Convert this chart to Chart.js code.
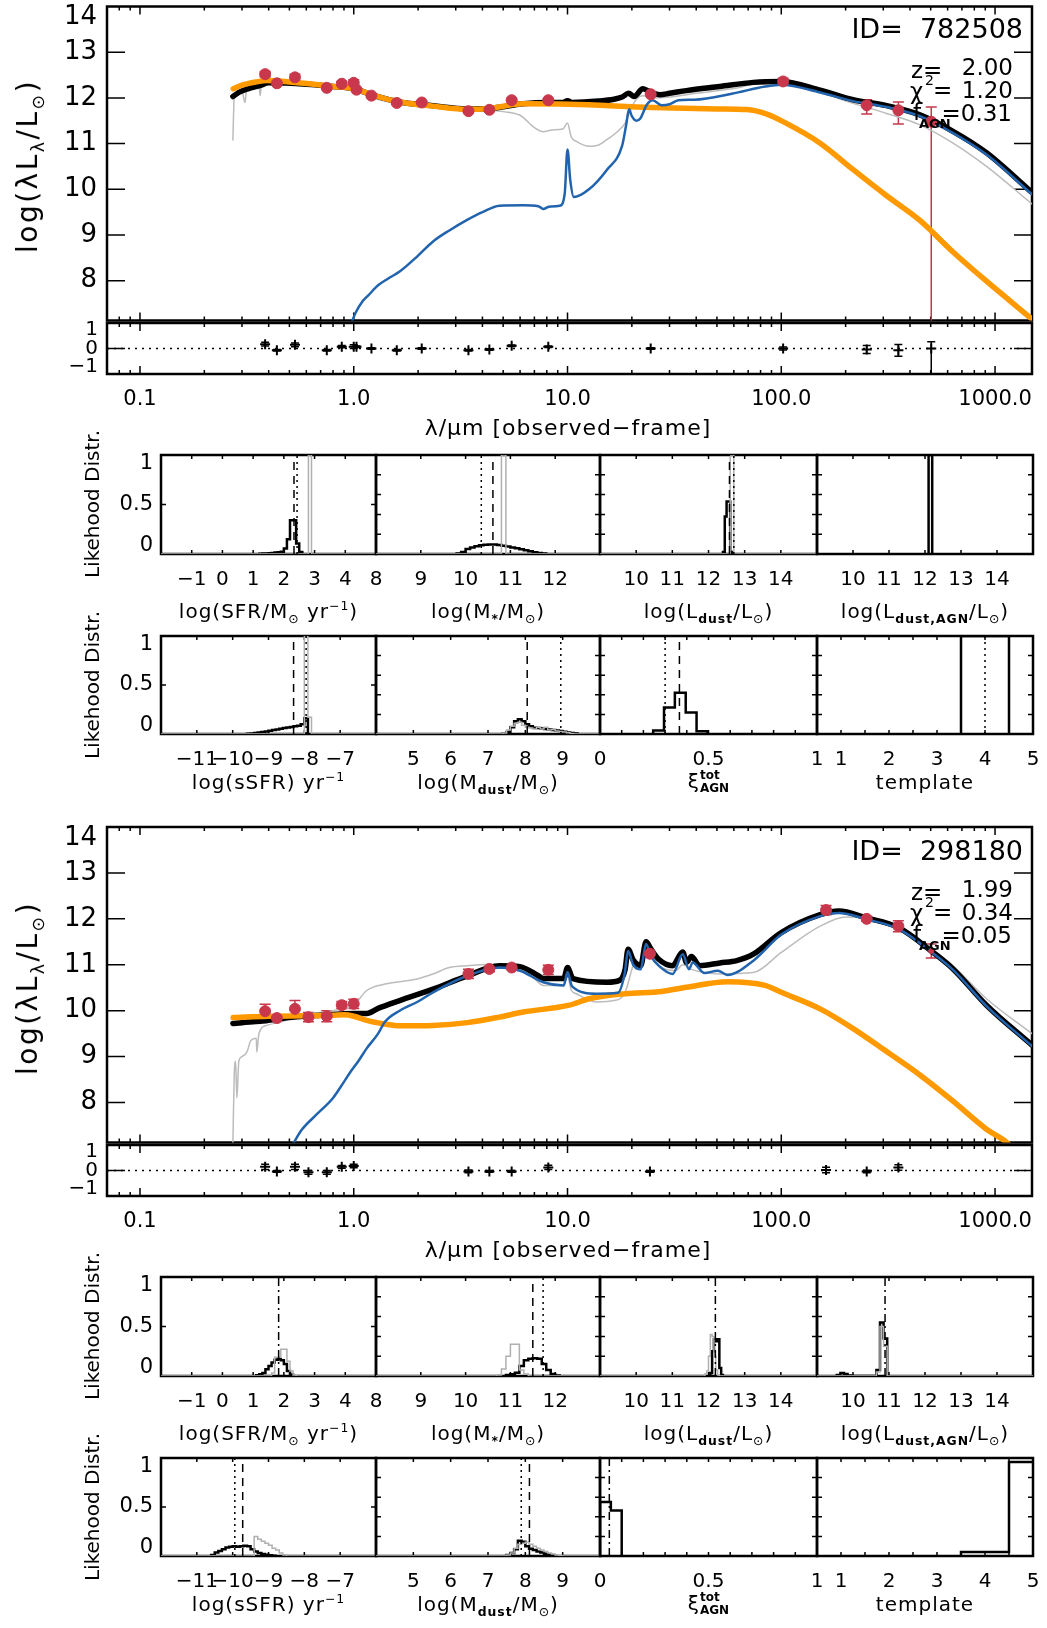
<!DOCTYPE html>
<html><head><meta charset="utf-8">
<script src="https://cdn.jsdelivr.net/npm/chart.js"></script>
<style>
html,body{margin:0;padding:0;background:#fff;}
body{position:relative;width:1047px;height:1628px;overflow:hidden;}
canvas{position:absolute;}
.t{position:absolute;white-space:nowrap;color:#000;font-family:'DejaVu Sans',sans-serif;line-height:1;}
.t sub,.t sup{font-size:0.62em;line-height:0;}
.t sub.b{font-weight:bold;}
</style></head><body>
<script>
// ================= DATA : object 782508 (upper figure) =================
const idA = '782508', zA = '2.00', chiA = '1.20', fagnA = '0.31';
// [wavelength (micron, observed frame), log(lambda L_lambda / Lsun)]
const sedA_gray = [[0.272,11.08],[0.276,12.0],[0.285,12.08],[0.30,12.15],[0.31,11.9],[0.315,12.18],[0.33,12.22],[0.36,12.28],[0.365,12.05],[0.37,12.29],[0.40,12.33],[0.50,12.32],[0.60,12.30],[0.80,12.25],[1.0,12.2],[1.2,12.02],[1.4,11.93],[1.7,11.86],[2.0,11.83],[2.5,11.79],[3.0,11.76],[3.5,11.74],[4.3,11.73],[5.0,11.70],[6.0,11.62],[7.0,11.35],[7.7,11.26],[8.5,11.3],[9.5,11.32],[10.0,11.45],[10.4,11.15],[11.0,11.05],[12.7,10.94],[14.0,10.97],[15.2,11.08],[17.0,11.25],[18.6,11.45],[20.0,11.8],[21.0,11.97],[22.5,12.05],[25,12.0],[30,12.02],[40,12.1],[58.7,12.2],[84,12.33],[100,12.32],[152,12.12],[217,11.88],[311,11.66],[445,11.41],[636,11.01],[912,10.5],[1489,9.68]];
const sedA_total = [[0.272,12.03],[0.29,12.12],[0.32,12.2],[0.364,12.27],[0.40,12.33],[0.6,12.3],[0.8,12.25],[1.0,12.2],[1.25,12.05],[1.64,11.91],[2.35,11.83],[3.4,11.76],[4.3,11.77],[6.2,11.87],[8.0,11.9],[9.5,11.9],[10,11.94],[10.5,11.9],[14,11.93],[16.5,11.97],[18,12.02],[19.3,12.1],[20.5,12.03],[22.5,12.2],[24,12.15],[27,12.07],[30,12.1],[36,12.16],[51.5,12.25],[74,12.34],[100,12.36],[152,12.17],[217,11.96],[311,11.83],[445,11.63],[636,11.27],[912,10.8],[1489,9.93]];
const sedA_galaxy = [[0.98,7.1],[1.02,7.3],[1.1,7.55],[1.17,7.68],[1.3,7.9],[1.45,8.05],[1.64,8.2],[2.0,8.55],[2.35,8.86],[2.8,9.1],[3.36,9.32],[4.0,9.5],[4.8,9.64],[6.2,9.65],[7.3,9.63],[7.7,9.57],[8.2,9.62],[9.2,9.64],[9.7,9.9],[10.0,10.87],[10.3,10.2],[10.7,9.83],[12.6,10.0],[15.3,10.43],[18.0,10.95],[18.8,11.4],[19.4,11.75],[20.0,11.6],[21.0,11.5],[21.9,11.55],[23.5,11.85],[25,11.95],[27.6,11.84],[30,11.86],[33,11.95],[39.2,11.96],[58.7,12.09],[84,12.25],[100,12.29],[152,12.12],[217,11.93],[311,11.80],[445,11.60],[636,11.23],[912,10.76],[1489,9.89]];
const sedA_agn = [[0.273,12.2],[0.3,12.28],[0.35,12.35],[0.392,12.38],[0.5,12.35],[0.65,12.3],[0.8,12.25],[1.0,12.2],[1.25,12.05],[1.64,11.91],[2.35,11.82],[3.4,11.75],[4.3,11.77],[6.2,11.87],[10.2,11.86],[25,11.79],[50,11.76],[69,11.745],[85,11.65],[102,11.48],[152,11.01],[217,10.43],[311,9.86],[445,9.32],[636,8.63],[912,7.99],[1489,7.16]];
const obsA_x  = [0.385,0.437,0.531,0.748,0.879,1.00,1.03,1.21,1.59,2.08,3.44,4.31,5.48,8.13,24.5,102,251,353,503];
const obsA_y  = [12.52,12.32,12.45,12.22,12.31,12.33,12.18,12.05,11.89,11.90,11.71,11.74,11.95,11.95,12.08,12.36,11.84,11.73,11.48];
const obsA_lo = [12.46,12.29,12.38,12.19,12.26,12.26,12.15,12.02,11.86,11.87,11.68,11.71,11.92,11.92,12.05,12.29,11.65,11.43,6.5];
const obsA_hi = [12.58,12.35,12.52,12.25,12.36,12.40,12.21,12.08,11.92,11.93,11.74,11.77,11.98,11.98,12.11,12.43,11.96,11.91,11.80];
const resA_y  = [0.24,-0.1,0.2,-0.1,0.1,0.1,0.1,0.0,-0.1,0.0,-0.1,-0.05,0.15,0.1,0.0,0.0,-0.05,-0.1,0.0];
const resA_lo = [0.14,-0.14,0.1,-0.14,0.04,0.0,0.06,-0.04,-0.14,-0.04,-0.14,-0.09,0.11,0.06,-0.04,-0.08,-0.27,-0.42,-2.0];
const resA_hi = [0.34,-0.06,0.3,-0.06,0.16,0.2,0.14,0.04,-0.06,0.04,-0.06,-0.01,0.19,0.14,0.04,0.08,0.17,0.22,0.37];
// likelihood histograms: first bin edge, bin width, heights
const A_sfr_black = {from:1.2, bin:0.1, h:[0.003,0.004,0.006,0.008,0.011,0.015,0.018,0.022,0.055,0.15,0.34,0.34,0.105,0.02]};
const A_sfr_gray  = {from:2.8, bin:0.1, h:[1.0]};
const A_sfr_lines = [['dash',2.33],['dot',2.43]];
const A_mst_black = {from:9.8, bin:0.1, h:[0.005,0.02,0.05,0.065,0.078,0.088,0.094,0.096,0.095,0.09,0.083,0.075,0.066,0.057,0.047,0.037,0.027,0.018,0.01,0.004]};
const A_mst_gray  = {from:10.8, bin:0.1, h:[1.0]};
const A_mst_lines = [['dot',10.35],['dash',10.61]];
const A_ldu_black = {from:12.4, bin:0.05, h:[0.02,0.38,0.53,0.53,0.02]};
const A_ldu_gray  = {from:12.6, bin:0.1, h:[1.0]};
const A_ldu_lines = [['dash',12.58],['dot',12.70]];
const A_lag_black = {from:12.1, bin:0.1, h:[1.0]};
const A_lag_lines = [];
const A_ssfr_black = {from:-9.6, bin:0.1, h:[0.003,0.006,0.01,0.015,0.02,0.026,0.032,0.04,0.047,0.054,0.06,0.066,0.072,0.078,0.085,0.1,0.16]};
const A_ssfr_gray  = {from:-8.0, bin:0.1, h:[1.0,0.17]};
const A_ssfr_lines = [['dash',-8.30],['dot',-7.95]];
const A_mdu_black = {from:7.4, bin:0.1, h:[0.005,0.02,0.07,0.13,0.15,0.13,0.10,0.08,0.065,0.06,0.055,0.05,0.045,0.04,0.035,0.03,0.022,0.015,0.01,0.005]};
const A_mdu_gray  = {from:7.4, bin:0.1, h:[0.01,0.04,0.08,0.11,0.12,0.09,0.07,0.06,0.05,0.07,0.05,0.07,0.04,0.045,0.03,0.025,0.02,0.012,0.005]};
const A_mdu_lines = [['dash',8.05],['dot',8.95]];
const A_xi_black = {from:0.245, bin:0.05, h:[0.035,0.27,0.42,0.22,0.027]};
const A_xi_lines = [['dot',0.30],['dash',0.366]];
const A_tpl_black = {from:3.5, bin:1.0, h:[1.0]};
const A_tpl_lines = [['dot',4.0]];

// ================= DATA : object 298180 (lower figure) =================
const idB = '298180', zB = '1.99', chiB = '0.34', fagnB = '0.05';
const sedB_gray = [[0.272,7.1],[0.276,8.6],[0.28,8.9],[0.284,8.1],[0.29,8.9],[0.30,9.0],[0.317,9.11],[0.33,9.35],[0.35,9.4],[0.352,9.1],[0.36,9.5],[0.392,9.68],[0.46,9.76],[0.56,9.90],[0.8,10.0],[1.0,10.12],[1.15,10.44],[1.4,10.58],[1.98,10.69],[2.35,10.8],[2.8,10.94],[3.4,10.98],[4.8,11.01],[6.0,10.94],[7.0,10.7],[7.7,10.55],[9.6,10.55],[10.0,10.76],[10.4,10.45],[11.0,10.37],[13.7,10.19],[16.5,10.22],[18.6,10.4],[20.0,10.9],[20.7,11.12],[22,11.0],[23.3,11.28],[26.7,10.98],[32,10.87],[34.6,11.0],[38,10.9],[51.6,10.8],[74,10.83],[100,11.27],[152,11.84],[201,12.04],[250,12.02],[353,11.77],[503,11.34],[636,10.98],[912,10.26],[1489,9.50]];
const sedB_total = [[0.272,9.72],[0.30,9.74],[0.364,9.77],[0.5,9.85],[0.7,9.9],[1.0,9.94],[1.15,9.94],[1.3,10.05],[1.64,10.22],[2.35,10.47],[3.4,10.76],[4.8,10.98],[6.0,10.96],[7.3,10.76],[7.7,10.7],[9.6,10.7],[10.0,10.94],[10.6,10.7],[15.3,10.62],[17.5,10.66],[18.6,10.9],[19.2,11.34],[20.3,11.1],[22,10.98],[23.3,11.5],[24.5,11.35],[26.7,11.12],[31,10.98],[34.6,11.28],[36,11.05],[38,11.18],[41.5,10.98],[51.6,11.04],[61.9,11.09],[74,11.23],[100,11.70],[152,12.09],[186,12.17],[250,12.02],[353,11.81],[503,11.30],[636,10.91],[912,10.12],[1489,9.25]];
const sedB_galaxy = [[0.52,7.1],[0.57,7.4],[0.67,7.74],[0.8,8.1],[0.9,8.45],[0.97,8.68],[1.05,8.9],[1.15,9.18],[1.3,9.5],[1.4,9.76],[1.64,10.0],[2.0,10.2],[2.35,10.4],[3.4,10.76],[4.8,10.94],[6.0,10.87],[7.7,10.62],[9.6,10.55],[10.0,10.84],[10.5,10.53],[13.7,10.37],[17.2,10.39],[18.5,10.8],[19.2,11.30],[20.3,11.0],[22,10.9],[23.3,11.45],[24.5,11.2],[26.7,10.98],[31,10.80],[34.6,11.23],[37,10.9],[38.5,11.05],[43.7,10.82],[50.5,10.87],[56,10.78],[74,11.09],[100,11.66],[152,12.06],[186,12.13],[250,11.99],[353,11.78],[503,11.28],[636,10.89],[912,10.10],[1489,9.23]];
const sedB_agn = [[0.273,9.85],[0.4,9.88],[0.6,9.89],[0.8,9.90],[0.9,9.91],[1.0,9.88],[1.15,9.79],[1.4,9.71],[1.64,9.67],[2.35,9.68],[3.4,9.74],[4.8,9.86],[6.2,9.97],[10.2,10.12],[12.6,10.26],[18.6,10.37],[27.6,10.42],[36,10.51],[56,10.63],[84,10.55],[100,10.40],[152,10.04],[217,9.61],[311,9.11],[445,8.60],[636,8.03],[912,7.42],[1135,7.13],[1300,6.85]];
const obsB_x  = [0.385,0.437,0.531,0.614,0.748,0.879,1.0,3.44,4.31,5.48,8.13,24.3,162,251,353,503];
const obsB_y  = [9.99,9.84,10.04,9.86,9.88,10.12,10.15,10.80,10.91,10.94,10.89,11.24,12.19,12.0,11.84,11.3];
const obsB_lo = [9.84,9.80,9.86,9.76,9.76,10.04,10.05,10.70,10.85,10.90,10.79,11.19,12.09,11.95,11.72,11.15];
const obsB_hi = [10.14,9.88,10.22,9.96,10.00,10.20,10.25,10.90,10.97,10.98,10.99,11.29,12.29,12.05,11.96,11.45];
const resB_x  = [0.385,0.437,0.531,0.614,0.748,0.879,1.0,3.44,4.31,5.48,8.13,24.3,162,251,353];
const resB_y  = [0.2,-0.05,0.2,-0.1,-0.1,0.2,0.25,-0.05,-0.05,-0.05,0.17,-0.05,0.03,-0.05,0.17];
const resB_lo = [0.05,-0.1,0.05,-0.2,-0.2,0.12,0.15,-0.13,-0.1,-0.1,0.05,-0.1,-0.12,-0.12,0.02];
const resB_hi = [0.35,0.0,0.35,0.0,0.0,0.28,0.35,0.03,0.0,0.0,0.29,0.0,0.18,0.02,0.32];
const B_sfr_black = {from:1.1, bin:0.1, h:[0.008,0.017,0.03,0.068,0.10,0.136,0.163,0.17,0.16,0.12,0.05,0.015]};
const B_sfr_gray  = {from:1.6, bin:0.1, h:[0.03,0.19,0.19,0.27,0.27,0.15,0.05,0.01]};
const B_sfr_lines = [['dashdot',1.83]];
const B_mst_black = {from:10.9, bin:0.1, h:[0.01,0.017,0.034,0.1,0.16,0.175,0.18,0.175,0.12,0.06,0.02,0.005]};
const B_mst_gray  = {from:10.7, bin:0.1, h:[0.01,0.07,0.2,0.32,0.32,0.06,0.02]};
const B_mst_lines = [['dash',11.5],['dot',11.73]];
const B_ldu_black = {from:12.05, bin:0.05, h:[0.03,0.25,0.37,0.35,0.37,0.08,0.01]};
const B_ldu_gray  = {from:11.9, bin:0.05, h:[0.02,0.05,0.2,0.42,0.40,0.20,0.06,0.01]};
const B_ldu_lines = [['dashdot',12.19]];
const B_lag_black = {from:9.55, bin:0.1, h:[0.01,0.03,0.02,0.005,0,0,0,0,0,0,0,0.06,0.54,0.38]};
const B_lag_gray  = {from:10.65, bin:0.1, h:[0.04,0.5,0.3]};
const B_lag_lines = [['dashdot',10.89]];
const B_ssfr_black = {from:-10.6, bin:0.1, h:[0.01,0.035,0.05,0.07,0.087,0.095,0.10,0.095,0.1,0.105,0.1,0.07,0.045,0.03,0.02,0.012,0.007,0.003]};
const B_ssfr_gray  = {from:-9.4, bin:0.1, h:[0.2,0.17,0.15,0.13,0.11,0.08,0.06,0.03,0.01]};
const B_ssfr_lines = [['dot',-9.94],['dash',-9.72]];
const B_mdu_black = {from:7.5, bin:0.1, h:[0.01,0.03,0.07,0.155,0.145,0.1,0.075,0.06,0.045,0.035,0.022,0.012,0.006]};
const B_mdu_gray  = {from:7.5, bin:0.1, h:[0.01,0.03,0.08,0.12,0.13,0.14,0.12,0.10,0.08,0.06,0.045,0.03,0.02,0.01,0.005]};
const B_mdu_lines = [['dot',7.89],['dash',8.11]];
const B_xi_black = {from:0, bin:0.05, h:[0.55,0.465]};
const B_xi_lines = [['dashdot',0.043]];
const B_tpl_black = {from:3.5, bin:1.0, h:[0.04,0.96]};
const B_tpl_lines = [];

// ================= axis ranges / tick labels =================
const XMIN = 0.0701, XMAX = 1489;
const DEC = [0.1,1,10,100,1000];
const DEC_TEXT = ['0.1','1.0','10.0','100.0','1000.0'];
const SED_YTICKS = [8,9,10,11,12,13,14];
const RES_YTICKS = [-1,0,1];
const ROW1_AXES = [
  {min:-2, max:5, labels:[-1,0,1,2,3,4], step:1},
  {min:8, max:13, labels:[8,9,10,11,12], step:1},
  {min:9, max:15, labels:[10,11,12,13,14], step:1},
  {min:9, max:15, labels:[10,11,12,13,14], step:1}];
const ROW2_AXES = [
  {min:-12, max:-6, labels:[-11,-10,-9,-8,-7], step:1},
  {min:4, max:10, labels:[5,6,7,8,9], step:1},
  {min:0, max:1, labels:[0,0.5,1], step:0.1},
  {min:0.5, max:5, labels:[1,2,3,4,5], step:0.5}];
const ROW1_TITLES = ['log(SFR/M<sub>⊙</sub> yr<sup>−1</sup>)','log(M<sub class="b">*</sub>/M<sub>⊙</sub>)','log(L<sub class="b">dust</sub>/L<sub>⊙</sub>)','log(L<sub class="b">dust,AGN</sub>/L<sub>⊙</sub>)'];
const ROW2_TITLES = ['log(sSFR) yr<sup>−1</sup>','log(M<sub class="b">dust</sub>/M<sub>⊙</sub>)','ξ<span style="display:inline-block;vertical-align:middle;font-size:0.6em;font-weight:bold;line-height:1.05;text-align:left;letter-spacing:0">tot<br>AGN</span>','template'];

// ================= rendering =================
const FONT = "'DejaVu Sans', sans-serif";
Chart.defaults.font.family = FONT;
Chart.defaults.color = '#000';
const RED = '#c8374b', BLUE = '#2163ad', ORANGE = '#ff9900', GRAY = '#bcbcbc', HGRAY = '#b0b0b0';
const COLS = [161,376,600,817,1033];
const FRAMES = new Map();
const fmt = v => (v < 0 ? '\u2212' : '') + String(Math.abs(v));

const idlFrame = {
  id: 'idlFrame',
  beforeDatasetsDraw(chart) {
    const f = FRAMES.get(chart.canvas); if (!f) return;
    const {ctx, chartArea: a} = chart; const xs = chart.scales.x, ys = chart.scales.y;
    ctx.save(); ctx.strokeStyle = '#000'; ctx.lineWidth = f.tw; ctx.beginPath();
    f.xt.forEach(t => { const p = xs.getPixelForValue(t.v); if (p < a.left + 1 || p > a.right - 1) return;
      if (f.xs.includes('b')) { ctx.moveTo(p, a.bottom); ctx.lineTo(p, a.bottom - t.len); }
      if (f.xs.includes('t')) { ctx.moveTo(p, a.top); ctx.lineTo(p, a.top + t.len); } });
    f.yt.forEach(t => { const p = ys.getPixelForValue(t.v); if (p < a.top + 1 || p > a.bottom - 1) return;
      if (f.ys.includes('l')) { ctx.moveTo(a.left, p); ctx.lineTo(a.left + t.len, p); }
      if (f.ys.includes('r')) { ctx.moveTo(a.right, p); ctx.lineTo(a.right - t.len, p); } });
    ctx.stroke();
    ctx.lineWidth = f.lw; ctx.strokeRect(a.left, a.top, a.right - a.left, a.bottom - a.top);
    ctx.restore();
  }
};
const errBars = {
  id: 'errBars',
  beforeDatasetsDraw(chart) {
    const {ctx, chartArea: a} = chart; const xs = chart.scales.x, ys = chart.scales.y;
    chart.data.datasets.forEach(ds => {
      if (!ds.errLo) return;
      ctx.save(); ctx.beginPath(); ctx.rect(a.left, a.top, a.right - a.left, a.bottom - a.top); ctx.clip();
      ctx.strokeStyle = ds.errColor; ctx.lineWidth = ds.errWidth; ctx.beginPath();
      ds.data.forEach((p, i) => {
        const x = xs.getPixelForValue(p.x), y1 = ys.getPixelForValue(ds.errLo[i]), y2 = ys.getPixelForValue(ds.errHi[i]);
        ctx.moveTo(x, y1); ctx.lineTo(x, y2);
        ctx.moveTo(x - ds.cap, y1); ctx.lineTo(x + ds.cap, y1);
        ctx.moveTo(x - ds.cap, y2); ctx.lineTo(x + ds.cap, y2);
      });
      ctx.stroke(); ctx.restore();
    });
  }
};

function axis(s, size, horiz) {
  return {
    type: s.type || 'linear', min: s.min, max: s.max, bounds: 'data', display: true,
    grid: {display: false, drawTicks: false}, border: {display: false},
    ticks: {display: !!s.show, padding: s.pad || 0, autoSkip: false, maxRotation: 0, minRotation: 0, color: '#000',
      font: {family: FONT, size: s.fs || 20, lineHeight: s.lh || 1.2},
      callback: (v, i) => (s.text ? s.text[i] : String(v))},
    afterBuildTicks: sc => { sc.ticks = (s.labels || []).map(v => ({value: v})); },
    afterFit: sc => { if (horiz) sc.height = size; else sc.width = size;
      sc.paddingLeft = 0; sc.paddingRight = 0; sc.paddingTop = 0; sc.paddingBottom = 0; }
  };
}

function makeChart(c) {
  const W = c.r - c.l, H = c.b - c.t;
  const padT = c.padT, padR = c.padR, padL = c.padL, padB = c.padB;
  const cv = document.createElement('canvas');
  const cw = W + padL + padR, ch = H + padT + padB;
  cv.width = cw; cv.height = ch; cv.style.width = cw + 'px'; cv.style.height = ch + 'px';
  cv.style.left = (c.l - padL) + 'px'; cv.style.top = (c.t - padT) + 'px';
  document.body.appendChild(cv);
  FRAMES.set(cv, c.frame);
  return new Chart(cv, {
    type: 'scatter',
    data: {datasets: c.datasets.slice().reverse()},
    options: {
      responsive: false, maintainAspectRatio: false, animation: false, devicePixelRatio: 1, events: [],
      layout: {padding: {left: 0, top: padT, right: padR, bottom: 0}},
      plugins: {legend: {display: false}, tooltip: {enabled: false}},
      elements: {point: {radius: 0, hoverRadius: 0}},
      scales: {x: axis(c.x, padB, true), y: axis(c.y, padL, false)}
    },
    plugins: [idlFrame, errBars]
  });
}

function lineDS(pairs, color, width) {
  return {data: pairs.map(p => ({x: p[0], y: p[1]})), showLine: true, borderColor: color, borderWidth: width,
    pointRadius: 0, cubicInterpolationMode: 'monotone', borderJoinStyle: 'round', borderCapStyle: 'round'};
}
function obsDS(xs, ys, lo, hi, radii) {
  return {data: xs.map((x, i) => ({x, y: ys[i]})), showLine: false, pointStyle: 'circle', pointRadius: radii,
    pointBackgroundColor: RED, pointBorderColor: RED, pointBorderWidth: 1,
    errLo: lo, errHi: hi, errColor: RED, errWidth: 1.5, cap: 5.5};
}
function resDS(xs, ys, lo, hi) {
  return {data: xs.map((x, i) => ({x, y: ys[i]})), showLine: false, pointStyle: 'cross', pointRadius: 5,
    pointBorderWidth: 2, pointBorderColor: '#000', errLo: lo, errHi: hi, errColor: '#000', errWidth: 1.5, cap: 4};
}
function histDS(h, lo, hi, color, width) {
  const pts = [{x: Math.min(lo, h.from), y: 0}];
  h.h.forEach((v, i) => pts.push({x: h.from + i * h.bin, y: v}));
  const end = h.from + h.h.length * h.bin;
  pts.push({x: end, y: 0});
  if (hi > end) pts.push({x: hi, y: 0});
  return {data: pts, showLine: true, stepped: 'before', borderColor: color, borderWidth: width, pointRadius: 0, borderJoinStyle: 'miter'};
}
function vlineDS(style, v) {
  const dash = {dash: [8, 6], dot: [2, 4], dashdot: [8, 4, 2, 4]}[style];
  return {data: [{x: v, y: 0}, {x: v, y: 1}], showLine: true, borderColor: '#000', borderWidth: 1.5, borderDash: dash, pointRadius: 0};
}

function txt(html, x, y, size, align, opt) {
  opt = opt || {};
  const d = document.createElement('div'); d.className = 't'; d.innerHTML = html;
  d.style.left = x + 'px'; d.style.top = y + 'px'; d.style.fontSize = size + 'px';
  if (opt.ls) d.style.letterSpacing = opt.ls + 'px';
  const tx = align === 'left' ? '0' : (align === 'right' ? '-100%' : '-50%');
  d.style.transform = 'translate(' + tx + ',-50%)' + (opt.rot ? ' rotate(-90deg)' : '');
  document.body.appendChild(d);
}

function sedBlock(D, S) {
  const decT = DEC.map(v => ({v, len: 8}));
  const minT = [];
  for (let e = -2; e <= 3; e++) for (let m = 2; m <= 9; m++) { const v = m * Math.pow(10, e); if (v > XMIN && v < XMAX) minT.push({v, len: 4}); }
  const mainT = 5 + D;
  makeChart({l: 107, r: 1032, t: mainT, b: 323 + D, padL: 95, padB: 4, padT: Math.min(14, mainT), padR: 14,
    x: {type: 'logarithmic', min: XMIN, max: XMAX, labels: DEC, show: false},
    y: {min: 7.13, max: 14, labels: SED_YTICKS, show: true, text: SED_YTICKS.map(v => v === 14 ? ['', '14'] : String(v)), fs: 26, pad: 10, lh: 0.85},
    datasets: [lineDS(S.gray, GRAY, 1.5), lineDS(S.total, '#000', 5.5), lineDS(S.agn, ORANGE, 5.5), lineDS(S.galaxy, BLUE, 2.5),
      obsDS(S.ox, S.oy, S.olo, S.ohi, S.orad)],
    frame: {lw: 2.5, tw: 1.5, xt: decT.concat(minT), xs: 'tb', yt: SED_YTICKS.map(v => ({v, len: 18})), ys: 'lr'}});
  makeChart({l: 107, r: 1032, t: 323 + D, b: 374 + D, padL: 95, padB: 50, padT: 14, padR: 14,
    x: {type: 'logarithmic', min: XMIN, max: XMAX, labels: DEC, text: DEC_TEXT, show: true, fs: 21, pad: 13},
    y: {min: -1.4, max: 1.4, labels: RES_YTICKS, text: RES_YTICKS.map(fmt), show: true, fs: 20, pad: 9},
    datasets: [{data: [{x: XMIN, y: 0}, {x: XMAX, y: 0}], showLine: true, borderColor: '#000', borderWidth: 1.5, borderDash: [2, 5], pointRadius: 0},
      resDS(S.rx, S.ry, S.rlo, S.rhi)],
    frame: {lw: 2.5, tw: 1.5, xt: decT.concat(minT), xs: 'tb', yt: [{v: 0, len: 18}], ys: 'lr'}});
}

function smallPanel(D, row, col, spec, black, gray, lines) {
  const t = (row === 0 ? 455 : 636) + D, b = (row === 0 ? 554 : 734) + D;
  const ds = [];
  if (black) ds.push(histDS(black, black.from, -Infinity, '#000', 2.5));
  if (gray) ds.push(histDS(gray, spec.min, spec.max, HGRAY, 1.5));
  lines.forEach(l => ds.push(vlineDS(l[0], l[1])));
  const xt = [];
  for (let k = 1; spec.min + k * spec.step < spec.max - 1e-9; k++) xt.push({v: spec.min + k * spec.step, len: 4});
  const yt = col === 0 ? [{v: 0.5, len: 5}] : [0.2, 0.4, 0.6, 0.8].map(v => ({v, len: 5}));
  makeChart({l: COLS[col], r: COLS[col + 1], t, b, padL: col === 0 ? 70 : 20, padB: 40, padT: 14, padR: 24,
    x: {min: spec.min, max: spec.max, labels: spec.labels, text: spec.labels.map(fmt), show: true, fs: 20, pad: 14},
    y: {min: 0, max: 1, labels: [0, 0.5, 1], text: [['0', ''], '0.5', ['', '1']], show: col === 0, fs: 21, pad: 8, lh: 0.8},
    datasets: ds, frame: {lw: 2.5, tw: 1.5, xt, xs: 'tb', yt, ys: 'lr'}});
}

function fullBlock(D, S, H, info) {
  sedBlock(D, S);
  ROW1_AXES.forEach((spec, c) => smallPanel(D, 0, c, spec, H.r1[c][0], H.r1[c][1], H.r1[c][2]));
  ROW2_AXES.forEach((spec, c) => smallPanel(D, 1, c, spec, H.r2[c][0], H.r2[c][1], H.r2[c][2]));
  // texts
  txt('log(λL<sub>λ</sub>/L<sub>⊙</sub>)', 28, 166 + D, 28, 'center', {rot: true, ls: 2.5});
  txt('λ/μm [observed−frame]', 568, 428 + D, 22, 'center', {ls: 1});
  txt('Likehood Distr.', 92, 504 + D, 20, 'center', {rot: true});
  txt('Likehood Distr.', 92, 685 + D, 20, 'center', {rot: true});
  ROW1_TITLES.forEach((h, c) => txt(h, (COLS[c] + COLS[c + 1]) / 2, 611 + D, 20, 'center', {ls: 1}));
  ROW2_TITLES.forEach((h, c) => txt(h, (COLS[c] + COLS[c + 1]) / 2, 782 + D, 20, 'center', {ls: 1}));
  txt('ID=&nbsp;&nbsp;' + info.id, 1023, 28 + D, 27, 'right');
  txt('z=', 911, 70 + D, 23, 'left');
  txt(info.z, 1013, 67 + D, 23, 'right');
  txt('χ', 910, 91 + D, 23, 'left');
  txt('2', 925, 80 + D, 14, 'left');
  txt('=', 933, 90 + D, 23, 'left');
  txt(info.chi, 1013, 90 + D, 23, 'right');
  txt('f', 913, 112 + D, 23, 'left');
  txt('<b>AGN</b>', 919, 123 + D, 13, 'left');
  txt('=' + info.fagn, 1012, 113 + D, 23, 'right');
}

fullBlock(0,
  {gray: sedA_gray, total: sedA_total, galaxy: sedA_galaxy, agn: sedA_agn,
   ox: obsA_x, oy: obsA_y, olo: obsA_lo, ohi: obsA_hi, orad: obsA_x.map(() => 5.5),
   rx: obsA_x, ry: resA_y, rlo: resA_lo, rhi: resA_hi},
  {r1: [[A_sfr_black, A_sfr_gray, A_sfr_lines], [A_mst_black, A_mst_gray, A_mst_lines], [A_ldu_black, A_ldu_gray, A_ldu_lines], [A_lag_black, null, A_lag_lines]],
   r2: [[A_ssfr_black, A_ssfr_gray, A_ssfr_lines], [A_mdu_black, A_mdu_gray, A_mdu_lines], [A_xi_black, null, A_xi_lines], [A_tpl_black, null, A_tpl_lines]]},
  {id: idA, z: zA, chi: chiA, fagn: fagnA});

fullBlock(822,
  {gray: sedB_gray, total: sedB_total, galaxy: sedB_galaxy, agn: sedB_agn,
   ox: obsB_x, oy: obsB_y, olo: obsB_lo, ohi: obsB_hi, orad: obsB_x.map((x, i) => i === obsB_x.length - 1 ? 2.5 : 5.5),
   rx: resB_x, ry: resB_y, rlo: resB_lo, rhi: resB_hi},
  {r1: [[B_sfr_black, B_sfr_gray, B_sfr_lines], [B_mst_black, B_mst_gray, B_mst_lines], [B_ldu_black, B_ldu_gray, B_ldu_lines], [B_lag_black, B_lag_gray, B_lag_lines]],
   r2: [[B_ssfr_black, B_ssfr_gray, B_ssfr_lines], [B_mdu_black, B_mdu_gray, B_mdu_lines], [B_xi_black, null, B_xi_lines], [B_tpl_black, null, B_tpl_lines]]},
  {id: idB, z: zB, chi: chiB, fagn: fagnB});
</script>
</body></html>
